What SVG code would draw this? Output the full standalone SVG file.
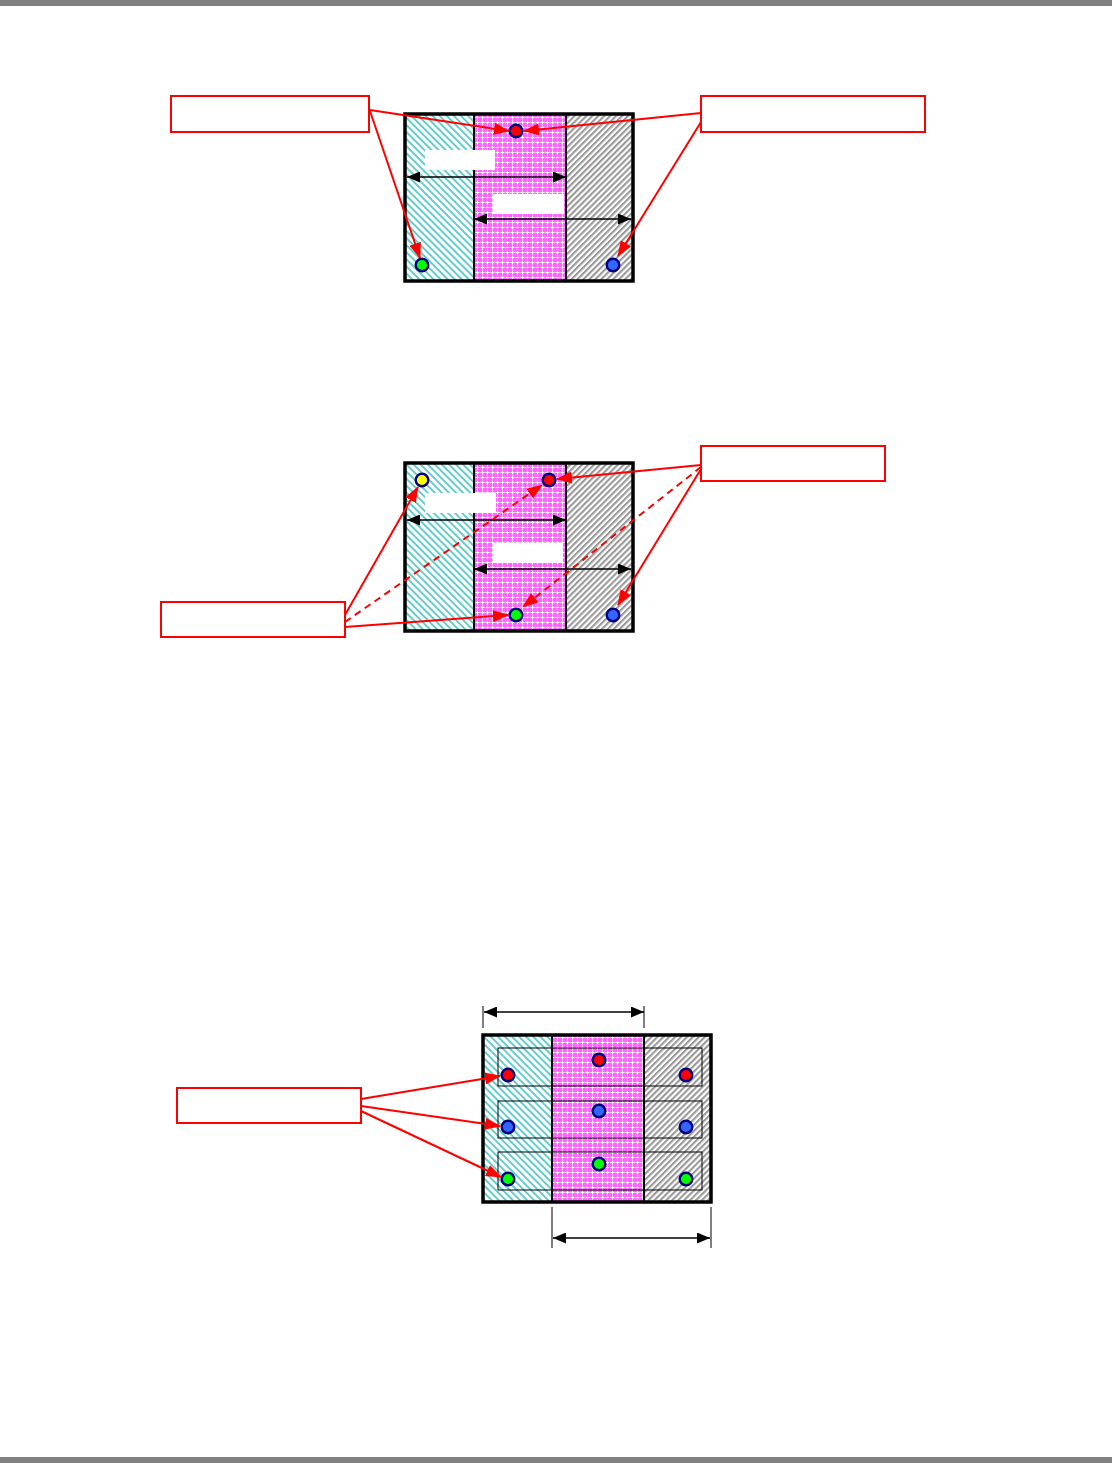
<svg xmlns="http://www.w3.org/2000/svg" width="1112" height="1463" viewBox="0 0 1112 1463">
<style>
.frame{fill:none;stroke:#000;stroke-width:3.5}
.div{stroke:#000;stroke-width:2}
.row{fill:none;stroke:#000;stroke-width:1}
.lbl{fill:#fff;stroke:#f00;stroke-width:2}
.wl{fill:#fff;stroke:none}
.dot{stroke:#000080;stroke-width:2.4}
.red{fill:#f00}.blu{fill:#3366ff}.grn{fill:#00ff00}.yel{fill:#ffff00}
.ra{fill:none;stroke:#f00;stroke-width:2;marker-end:url(#ah)}
.rd{stroke-dasharray:7,5}
.dim{fill:none;stroke:#000;stroke-width:1.3;marker-start:url(#bh);marker-end:url(#bh)}
.tick{stroke:#000;stroke-width:1}
</style>
<defs>
<pattern id="cyan" patternUnits="userSpaceOnUse" width="5" height="5" patternTransform="rotate(45)">
<rect width="5" height="5" fill="#fff"/><rect width="5" height="2" fill="#66cccc"/>
</pattern>
<pattern id="gray" patternUnits="userSpaceOnUse" width="4.2" height="4.2" patternTransform="rotate(-45)">
<rect width="4.2" height="4.2" fill="#fff"/><rect width="4.2" height="2.1" fill="#999"/>
</pattern>
<pattern id="mag" patternUnits="userSpaceOnUse" width="5" height="5">
<rect width="5" height="5" fill="#ff66ff"/>
<rect x="0" y="2" width="5" height="1" fill="#ffb0ff"/>
<rect x="2" y="0" width="1" height="5" fill="#ffb0ff"/>
<rect x="2" y="1" width="1" height="3" fill="#fff"/>
<rect x="1" y="2" width="3" height="1" fill="#fff"/>
</pattern>
<marker id="ah" markerUnits="userSpaceOnUse" markerWidth="16" markerHeight="12" refX="15" refY="6" orient="auto">
<path d="M0,0 L16,6 L0,12 z" fill="#f00"/>
</marker>
<marker id="bh" markerUnits="userSpaceOnUse" markerWidth="13" markerHeight="11" refX="13" refY="5.5" orient="auto-start-reverse">
<path d="M0,0 L13,5.5 L0,11 z" fill="#000"/>
</marker>
</defs>
<rect width="1112" height="1463" fill="#fff"/>
<rect x="0" y="0" width="1112" height="6" fill="#808080"/>
<rect x="0" y="1457" width="1112" height="6" fill="#808080"/>

<!-- Diagram 1 -->
<g id="box1">
<rect x="405" y="114" width="69" height="167" fill="url(#cyan)"/>
<rect x="474" y="114" width="92" height="167" fill="url(#mag)"/>
<rect x="566" y="114" width="67" height="167" fill="url(#gray)"/>
<line class="div" x1="474" y1="114" x2="474" y2="281"/>
<line class="div" x1="566" y1="114" x2="566" y2="281"/>
<rect class="frame" x="405" y="114" width="228" height="167"/>
<rect class="wl" x="425" y="150" width="70" height="20"/>
<rect class="wl" x="493" y="194" width="71" height="20"/>
</g>
<g id="dots1">
<circle class="dot red" cx="516" cy="131" r="6.3"/>
<circle class="dot grn" cx="422" cy="265" r="6.3"/>
<circle class="dot blu" cx="613" cy="265" r="6.3"/>
</g>
<g id="label1a"><rect class="lbl" x="171" y="96" width="198" height="36"/></g>
<g id="label1b"><rect class="lbl" x="701" y="96" width="224" height="36"/></g>

<!-- Diagram 2 -->
<g id="box2">
<rect x="405" y="463" width="69" height="168" fill="url(#cyan)"/>
<rect x="474" y="463" width="92" height="168" fill="url(#mag)"/>
<rect x="566" y="463" width="67" height="168" fill="url(#gray)"/>
<line class="div" x1="474" y1="463" x2="474" y2="631"/>
<line class="div" x1="566" y1="463" x2="566" y2="631"/>
<rect class="frame" x="405" y="463" width="228" height="168"/>
<rect class="wl" x="425" y="493" width="71" height="20"/>
<rect class="wl" x="493" y="543" width="70" height="20"/>
</g>
<g id="dots2">
<circle class="dot yel" cx="422" cy="480" r="6.3"/>
<circle class="dot red" cx="549" cy="480" r="6.3"/>
<circle class="dot grn" cx="516" cy="615" r="6.3"/>
<circle class="dot blu" cx="613" cy="615" r="6.3"/>
</g>
<g id="label2a"><rect class="lbl" x="161" y="602" width="184" height="35"/></g>
<g id="label2b"><rect class="lbl" x="701" y="446" width="184" height="35"/></g>

<!-- Diagram 3 -->
<g id="box3">
<rect x="483" y="1035" width="69" height="167" fill="url(#cyan)"/>
<rect x="552" y="1035" width="92" height="167" fill="url(#mag)"/>
<rect x="644" y="1035" width="67" height="167" fill="url(#gray)"/>
<line class="div" x1="552" y1="1035" x2="552" y2="1202"/>
<line class="div" x1="644" y1="1035" x2="644" y2="1202"/>
<rect class="row" x="498" y="1048" width="204" height="38"/>
<rect class="row" x="498" y="1101" width="204" height="37"/>
<rect class="row" x="498" y="1152" width="204" height="38"/>
<rect class="frame" x="483" y="1035" width="228" height="167"/>
</g>
<g id="dots3">
<circle class="dot red" cx="508" cy="1075" r="6.3"/>
<circle class="dot red" cx="599" cy="1060" r="6.3"/>
<circle class="dot red" cx="686" cy="1075" r="6.3"/>
<circle class="dot blu" cx="508" cy="1127" r="6.3"/>
<circle class="dot blu" cx="599" cy="1111" r="6.3"/>
<circle class="dot blu" cx="686" cy="1127" r="6.3"/>
<circle class="dot grn" cx="508" cy="1179" r="6.3"/>
<circle class="dot grn" cx="599" cy="1164" r="6.3"/>
<circle class="dot grn" cx="686" cy="1179" r="6.3"/>
</g>
<g id="label3"><rect class="lbl" x="177" y="1088" width="184" height="35"/></g>

<g id="connectors">
<!-- dimension arrows -->
<line class="dim" x1="407" y1="177" x2="566" y2="177"/>
<line class="dim" x1="474" y1="219" x2="631" y2="219"/>
<line class="dim" x1="407" y1="520" x2="566" y2="520"/>
<line class="dim" x1="474" y1="569" x2="631" y2="569"/>
<line class="tick" x1="483" y1="1006" x2="483" y2="1028"/>
<line class="tick" x1="644" y1="1006" x2="644" y2="1028"/>
<line class="dim" x1="484" y1="1012" x2="644" y2="1012"/>
<line class="tick" x1="552" y1="1207" x2="552" y2="1248"/>
<line class="tick" x1="711" y1="1207" x2="711" y2="1248"/>
<line class="dim" x1="553" y1="1238" x2="710" y2="1238"/>
<!-- diagram 1 callouts -->
<line class="ra" x1="370" y1="110" x2="509" y2="131"/>
<line class="ra" x1="370" y1="111" x2="420" y2="258"/>
<line class="ra" x1="701" y1="113" x2="524" y2="131"/>
<line class="ra" x1="701" y1="122" x2="618" y2="256"/>
<!-- diagram 2 callouts -->
<line class="ra" x1="345" y1="615" x2="418" y2="487"/>
<line class="ra rd" x1="345" y1="622" x2="542" y2="485"/>
<line class="ra" x1="345" y1="627" x2="508" y2="615"/>
<line class="ra" x1="701" y1="465" x2="557" y2="479"/>
<line class="ra rd" x1="701" y1="467" x2="523" y2="607"/>
<line class="ra" x1="701" y1="469" x2="618" y2="605"/>
<!-- diagram 3 callouts -->
<line class="ra" x1="361" y1="1099" x2="500" y2="1076"/>
<line class="ra" x1="361" y1="1106" x2="500" y2="1126"/>
<line class="ra" x1="361" y1="1111" x2="501" y2="1177"/>
</g>
</svg>
